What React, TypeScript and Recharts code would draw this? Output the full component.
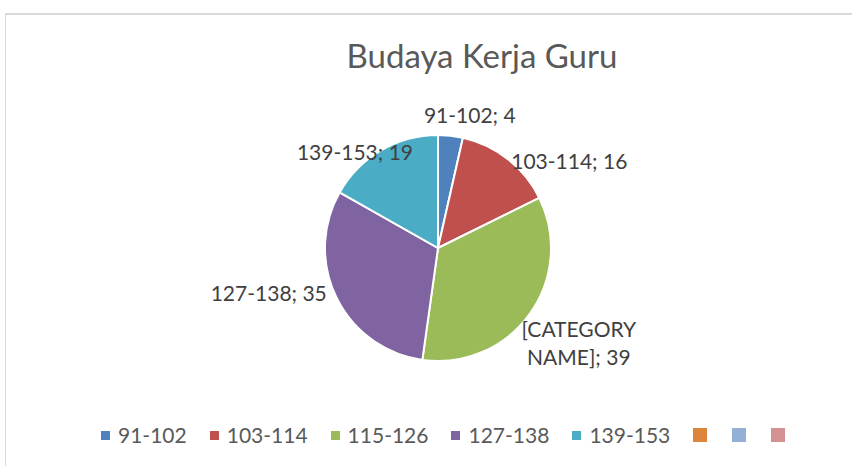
import { PieChart, Pie, Cell, Legend } from 'recharts';

const CATEGORIES = ['91-102', '103-114', '115-126', '127-138', '139-153'];
const VALUES = [4, 16, 39, 35, 19];
// Excel showed the placeholder text on the third slice
const LABEL_NAMES = ['91-102', '103-114', '[CATEGORY NAME]', '127-138', '139-153'];
const COLORS = ['#4f81bd', '#c0504d', '#9bbb59', '#8064a2', '#4bacc6'];
const EMPTY_COLORS = ['#dd843d', '#95b0d6', '#d49192'];

const FONT = 'Lato, "Open Sans", sans-serif';
const RAD = Math.PI / 180;
// best-fit label offsets, per slice
const LABEL_NUDGE = [[17, -2], [49, 16], [33, 16], [-50, -15], [-16, 18]];

const data = CATEGORIES.map((name, i) => ({ name, value: VALUES[i] }));

const renderLabel = (props: any) => {
  const { cx, cy, midAngle, outerRadius, index, value } = props;
  const r = outerRadius + 20;
  const [dx, dy] = LABEL_NUDGE[index];
  const x = cx + r * Math.cos(-midAngle * RAD) + dx;
  const y = cy + r * Math.sin(-midAngle * RAD) + dy;
  const text = `${LABEL_NAMES[index]}; ${value}`;
  const words = text.split(' ');
  const lines = text.length > 14 ? [words[0], words.slice(1).join(' ')] : [text];
  return (
    <text x={x} y={y} fill="#404040" fontFamily={FONT} fontSize={21} textAnchor="middle" dominantBaseline="central">
      {lines.map((l, i) => (
        <tspan key={i} x={x} y={y + (i - (lines.length - 1) / 2) * 28}>{l}</tspan>
      ))}
    </text>
  );
};

const LegendContent = ({ payload }: any) => {
  // keep the sheet's order, not the sorted one
  const items = CATEGORIES.map((name) => {
    const p = (payload || []).find((e: any) => e.value === name);
    return { name, color: p ? p.color : COLORS[CATEGORIES.indexOf(name)] };
  });
  return (
    <div style={{ display: 'flex', alignItems: 'center', fontFamily: FONT, fontSize: 21, color: '#595959', lineHeight: '24px' }}>
      {items.map((e, i) => (
        <div key={i} style={{ display: 'flex', alignItems: 'center', marginRight: 23 }}>
          <span style={{ width: 9, height: 9, background: e.color, marginRight: 8 }} />
          <span>{e.name}</span>
        </div>
      ))}
      {EMPTY_COLORS.map((c, i) => (
        <span key={'e' + i} style={{ width: 14, height: 14, background: c, marginRight: 25 }} />
      ))}
    </div>
  );
};

export default function App() {
  return (
    <div style={{ position: 'absolute', left: 0, top: 0, width: 852, height: 466, overflow: 'hidden', background: '#fff' }}>
      <div style={{ position: 'absolute', left: 5, top: 13, width: 900, height: 500, borderTop: '2px solid #d9d9d9', borderLeft: '1px solid #d9d9d9' }} />
      <div style={{ position: 'absolute', left: 0, top: 35, width: 964, textAlign: 'center', fontFamily: FONT, fontSize: 33, color: '#595959' }}>
        Budaya Kerja Guru
      </div>
      <div style={{ position: 'absolute', left: 0, top: 0 }}>
        <PieChart width={852} height={466} margin={{ top: 0, right: 0, bottom: 0, left: 0 }}>
          <Pie
            data={data}
            dataKey="value"
            nameKey="name"
            cx={438}
            cy={248}
            outerRadius={113}
            startAngle={90}
            endAngle={-270}
            stroke="#fff"
            strokeWidth={2}
            label={renderLabel}
            labelLine={false}
            isAnimationActive={false}
          >
            {data.map((entry, index) => (
              <Cell key={`cell-${index}`} fill={COLORS[index % COLORS.length]} />
            ))}
          </Pie>
          <Legend content={<LegendContent />} wrapperStyle={{ left: 101, top: 423, width: 740 }} />
        </PieChart>
      </div>
    </div>
  );
}
